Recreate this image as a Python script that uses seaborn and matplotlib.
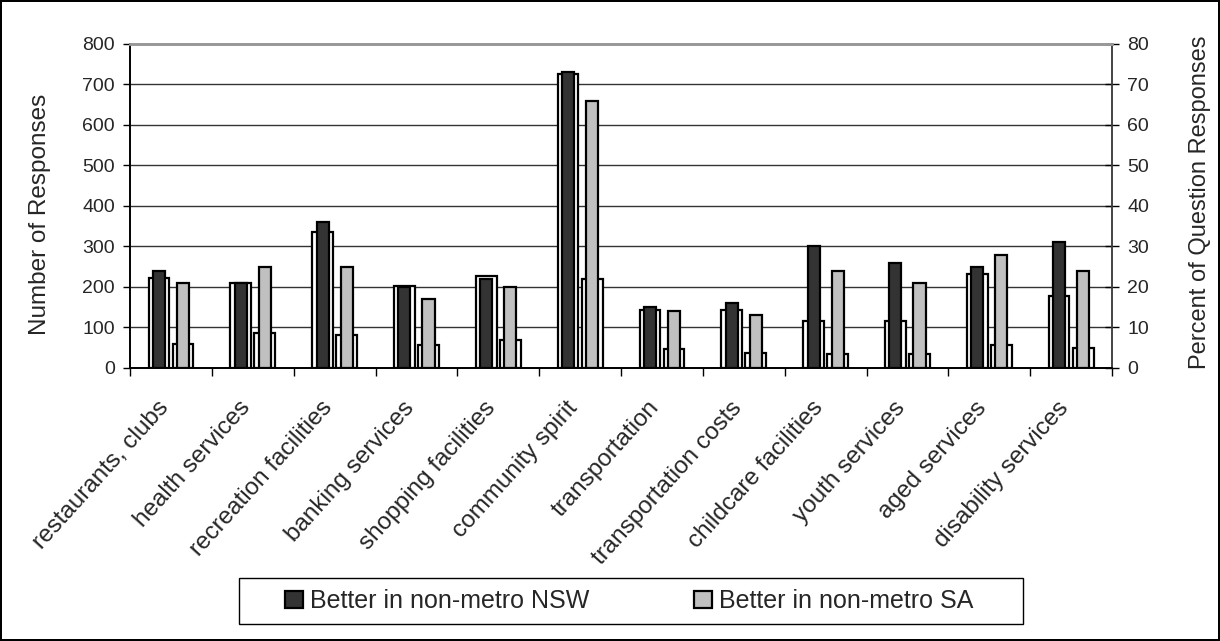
import matplotlib
matplotlib.use('Agg')
import matplotlib.pyplot as plt
import matplotlib.transforms as mtransforms
from matplotlib.patches import Rectangle
import pandas as pd
import seaborn as sns

# categories along the x axis
categories = ['restaurants, clubs', 'health services', 'recreation facilities',
              'banking services', 'shopping facilities', 'community spirit',
              'transportation', 'transportation costs', 'childcare facilities',
              'youth services', 'aged services', 'disability services']
regions = ['Better in non-metro NSW', 'Better in non-metro SA']

# number of responses (left axis, white bars)
nsw_count = [222, 211, 336, 203, 226, 725, 143, 143, 117, 117, 233, 178]
sa_count = [60, 87, 81, 58, 69, 219, 47, 38, 34, 34, 57, 49]

# percent of question responses (right axis, shaded bars)
nsw_pct = [24, 21, 36, 20, 22, 73, 15, 16, 30, 26, 25, 31]
sa_pct = [21, 25, 25, 17, 20, 66, 14, 13, 24, 21, 28, 24]


def long_frame(nsw, sa, name):
    df = pd.DataFrame({'category': categories, regions[0]: nsw, regions[1]: sa})
    return df.melt(id_vars='category', var_name='region', value_name=name)


def main():
    counts = long_frame(nsw_count, sa_count, 'count')
    pcts = long_frame(nsw_pct, sa_pct, 'pct')

    sns.set_theme(style='white')
    plt.rcParams['font.family'] = ['Liberation Sans', 'DejaVu Sans']

    fig, ax = plt.subplots(figsize=(12.2, 6.41), dpi=100)
    fig.subplots_adjust(left=0.1066, right=0.9115, top=0.9314, bottom=0.4259)
    fig.patch.set_edgecolor('black')
    fig.patch.set_linewidth(1.5)

    ax2 = ax.twinx()

    sns.barplot(data=counts, x='category', y='count', hue='region',
                palette=['white', 'white'], edgecolor='black', linewidth=1.6,
                width=0.59, gap=0.14, errorbar=None, legend=False, ax=ax)
    sns.barplot(data=pcts, x='category', y='pct', hue='region',
                palette=['#333333', '#c0c0c0'], edgecolor='black', linewidth=1.6,
                width=0.59, gap=0.5, errorbar=None, ax=ax2)

    ax.set_ylim(0, 800)
    ax2.set_ylim(0, 80)
    ax.set_xlim(-0.5, len(categories) - 0.5)
    ax.set_yticks(range(0, 801, 100))
    ax2.set_yticks(range(0, 81, 10))

    # horizontal gridlines from the left axis
    for v in range(100, 800, 100):
        ax.axhline(v, color='#333333', linewidth=1, zorder=0)

    # category boundaries carry the tick marks, labels sit at the centres
    ax.set_xticks([i - 0.5 for i in range(len(categories) + 1)])
    ax.set_xticklabels([])
    ax.set_xticks(range(len(categories)), minor=True)
    ax.set_xticklabels(categories, minor=True, rotation=48, ha='right',
                       va='center', rotation_mode='anchor', fontsize=17.5)
    ax.tick_params(axis='x', which='major', direction='out', length=6, width=1, color='black', bottom=True)
    ax.tick_params(axis='x', which='minor', length=0, pad=26)
    shift = mtransforms.ScaledTranslation(-6 / 100, 0, fig.dpi_scale_trans)
    for lab in ax.get_xticklabels(minor=True):
        lab.set_transform(lab.get_transform() + shift)
    ax2.set_xlabel('')
    ax.set_xlabel('')

    ax.tick_params(axis='y', direction='out', length=5, width=1, color='black', labelsize=14, left=True, pad=6)
    ax2.tick_params(axis='y', direction='inout', length=10, width=1, color='black', labelsize=14, right=True, pad=6)

    ax.set_ylabel('Number of Responses', fontsize=17.5)
    ax2.set_ylabel('Percent of Question Responses', fontsize=17)
    ax.yaxis.set_label_coords(-0.080, 0.475)
    ax2.yaxis.set_label_coords(1.078, 0.51)

    for a in (ax, ax2):
        a.spines['left'].set_color('black')
        a.spines['right'].set_color('#444444')
        a.spines['bottom'].set_color('black')
        a.spines['top'].set_color('#999999')
        a.spines['top'].set_linewidth(2)
        a.spines['left'].set_linewidth(1.2)
        a.spines['right'].set_linewidth(1.2)

    # legend in its own box below the chart
    handles, labels = ax2.get_legend_handles_labels()
    ax2.get_legend().remove()
    fig.patches.append(Rectangle((239 / 1220, 1 - 624 / 641), (1023 - 239) / 1220, (624 - 578) / 641,
                                 transform=fig.transFigure, facecolor='white',
                                 edgecolor='black', linewidth=1))
    fig.legend(handles, labels, loc='center left', bbox_to_anchor=(285 / 1220, 1 - 601 / 641),
               ncol=2, frameon=False, fontsize=18, handlelength=0.7, handleheight=0.7,
               handletextpad=0.3, columnspacing=4.2, borderpad=0, borderaxespad=0)

    fig.savefig('out.png', dpi=100)


if __name__ == '__main__':
    main()
